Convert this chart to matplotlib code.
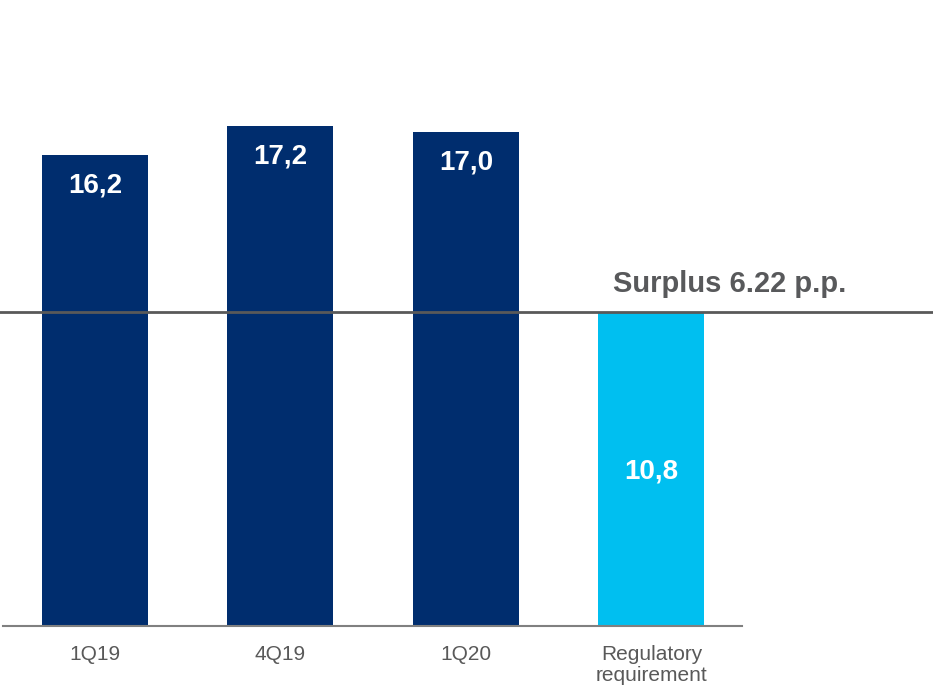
import matplotlib.pyplot as plt

# --- Data ---
categories = ['1Q19', '4Q19', '1Q20', 'Regulatory\nrequirement']
values = [16.2, 17.2, 17.0, 10.8]
labels = ['16,2', '17,2', '17,0', '10,8']
surplus_text = 'Surplus 6.22 p.p.'

NAVY = '#002D6E'
SKY = '#00BFF0'
GREY_TXT = '#58595B'

plt.rcParams['font.family'] = ['Liberation Sans', 'DejaVu Sans']

fig = plt.figure(figsize=(9.33, 6.88), dpi=100, facecolor='white')
ax = fig.add_axes([0, 62 / 688, 1, 626 / 688])

x = list(range(len(categories)))
colors = [NAVY, NAVY, NAVY, SKY]
ax.bar(x, values, width=0.571, color=colors, zorder=2)

ax.set_xlim(-0.512, 4.518)
ax.set_ylim(0, 21.53)

# value labels
for xi, v, lab in zip(x, values, labels):
    if xi < 3:
        ax.annotate(lab, (xi, v), xytext=(0, -22), textcoords='offset points',
                    ha='center', va='center', color='white', fontsize=20, weight='bold')
    else:
        ax.annotate(lab, (xi, v / 2), xytext=(0, -2), textcoords='offset points',
                    ha='center', va='center', color='white', fontsize=20, weight='bold')

# regulatory line and surplus text
ax.axhline(values[3], color='#595959', linewidth=2, zorder=3)
ax.annotate(surplus_text, (3.42, values[3]), xytext=(0, 20), textcoords='offset points',
            ha='center', va='center', color=GREY_TXT, fontsize=21, weight='bold')

# baseline
ax.plot([-0.495, 3.49], [0, 0], color='#808080', linewidth=1.5, clip_on=False, zorder=3)

for s in ax.spines.values():
    s.set_visible(False)
ax.set_yticks([])
ax.set_xticks(x)
ax.set_xticklabels(categories, fontsize=15, color='#595959', linespacing=1.1, va='top')
ax.tick_params(axis='x', length=0, pad=14)

plt.savefig('out.png', dpi=100, facecolor='white')
